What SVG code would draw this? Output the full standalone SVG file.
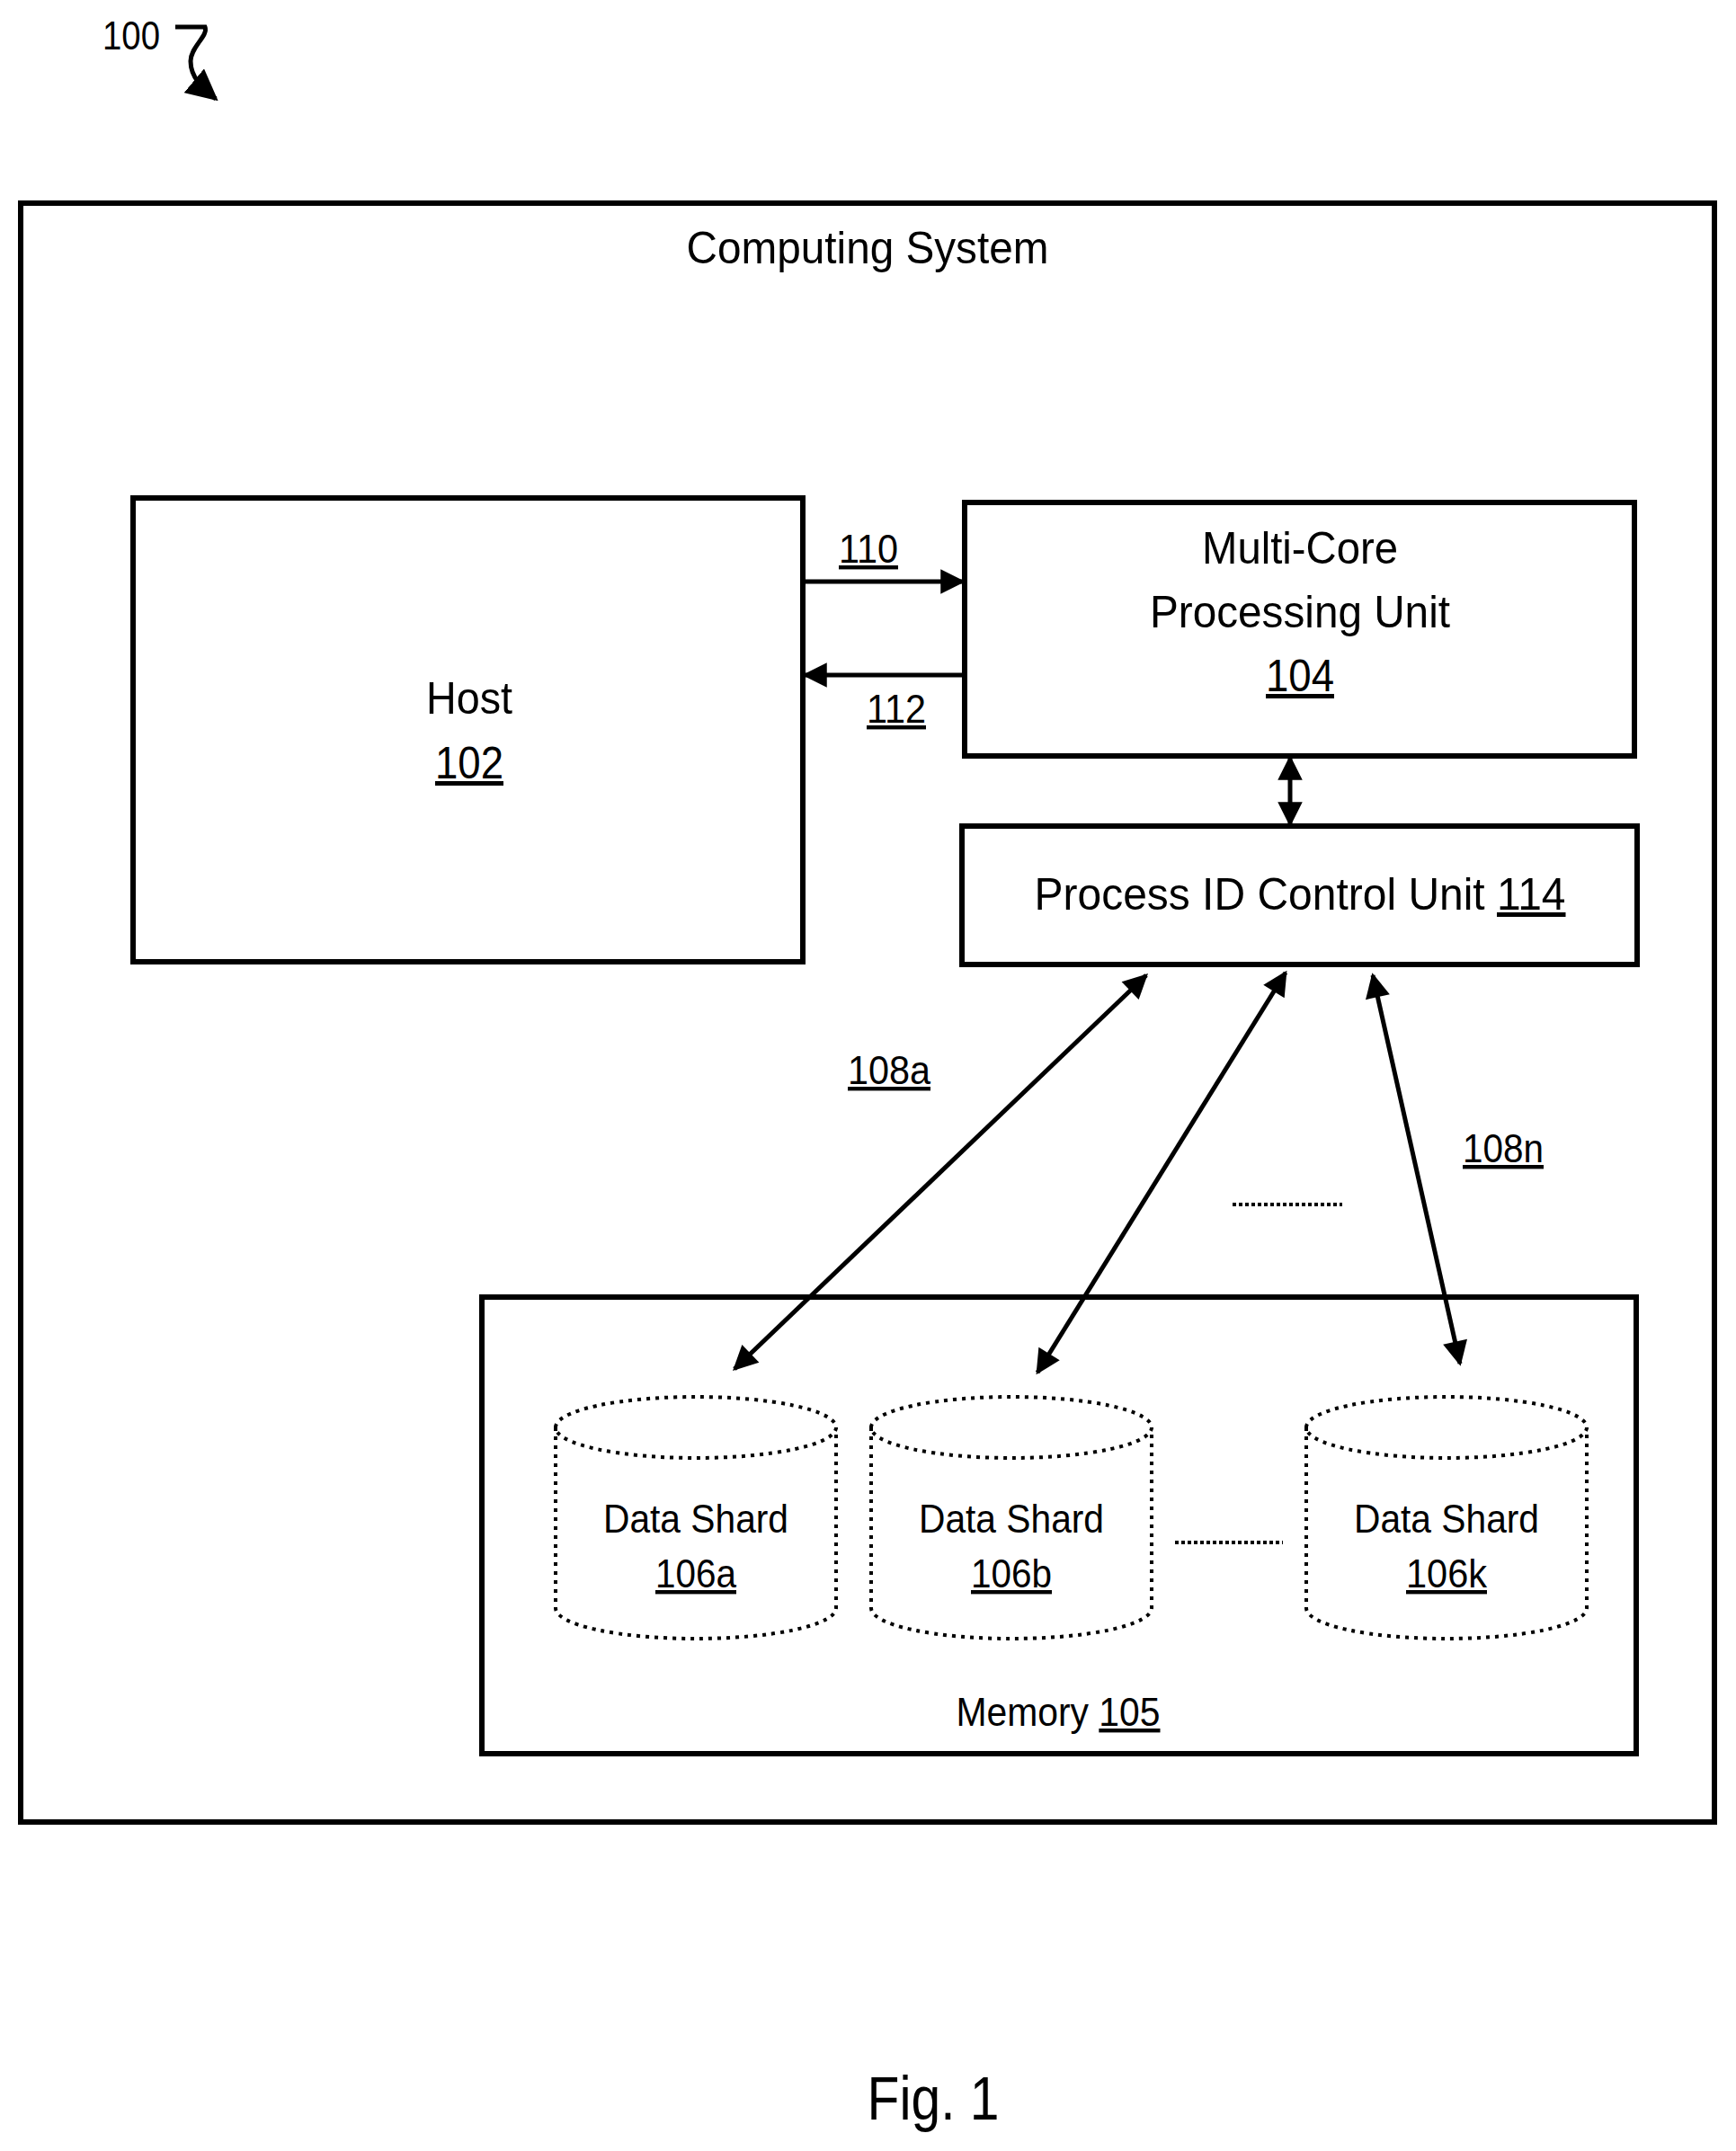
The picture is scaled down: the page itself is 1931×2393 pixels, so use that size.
<svg xmlns="http://www.w3.org/2000/svg" width="1931" height="2393" viewBox="0 0 1931 2393">
<style>
.box{fill:none;stroke:#000;stroke-width:6}
.t{font-family:"Liberation Sans",Arial,sans-serif;font-size:50px;fill:#000;text-anchor:middle}
.s{font-size:44px}
.u{text-decoration:underline}
.ln{stroke:#000;stroke-width:5;fill:none}
.cyl{fill:none;stroke:#000;stroke-width:4;stroke-dasharray:4 6}
.dot{stroke:#000;stroke-width:4;stroke-dasharray:4 3}
</style>
<defs>
<marker id="ah" viewBox="0 0 10 10" refX="9" refY="5" markerWidth="7" markerHeight="5.5" orient="auto-start-reverse" markerUnits="strokeWidth">
<path d="M0,0 L10,5 L0,10 z" fill="#000"/>
</marker>
<marker id="ah2" viewBox="0 0 10 10" refX="9" refY="5" markerWidth="7" markerHeight="7" orient="auto-start-reverse" markerUnits="strokeWidth">
<path d="M0,0 L10,5 L0,10 z" fill="#000"/>
</marker>
</defs>
<rect width="1931" height="2393" fill="#fff"/>
<g id="ref100">
<text class="t s" x="146" y="55" textLength="64" lengthAdjust="spacingAndGlyphs">100</text>
<path d="M195,30 H228 C232,40 212,52 212,68 C212,88 228,100 240,110" class="ln" stroke-width="3" marker-end="url(#ah2)"/>
</g>
<g id="computing-system">
<rect class="box" x="23" y="226" width="1884" height="1801"/>
<text class="t" x="965" y="293" textLength="403" lengthAdjust="spacingAndGlyphs">Computing System</text>
</g>
<g id="host">
<rect class="box" x="148" y="554" width="745" height="516"/>
<text class="t" x="522" y="794" textLength="96" lengthAdjust="spacingAndGlyphs">Host</text>
<text class="t u" x="522" y="866" textLength="76" lengthAdjust="spacingAndGlyphs">102</text>
</g>
<g id="mcpu">
<rect class="box" x="1073" y="559" width="745" height="282"/>
<text class="t" x="1446" y="627" textLength="218" lengthAdjust="spacingAndGlyphs">Multi-Core</text>
<text class="t" x="1446" y="698" textLength="334" lengthAdjust="spacingAndGlyphs">Processing Unit</text>
<text class="t u" x="1446" y="769" textLength="76" lengthAdjust="spacingAndGlyphs">104</text>
</g>
<g id="pidcu">
<rect class="box" x="1070" y="919" width="751" height="154"/>
<text class="t" x="1446" y="1012" textLength="591" lengthAdjust="spacingAndGlyphs">Process ID Control Unit <tspan class="u">114</tspan></text>
</g>
<g id="memory">
<rect class="box" x="536" y="1443" width="1284" height="508"/>
<text class="t s" x="1177" y="1920" textLength="227" lengthAdjust="spacingAndGlyphs">Memory <tspan class="u">105</tspan></text>
</g>
<g id="shard-a">
<path class="cyl" d="M618,1588 V1789 A156,34 0 0 0 930,1789 V1588"/>
<ellipse class="cyl" cx="774" cy="1588" rx="156" ry="34"/>
<text class="t s" x="774" y="1705" textLength="206" lengthAdjust="spacingAndGlyphs">Data Shard</text>
<text class="t s u" x="774" y="1766" textLength="90" lengthAdjust="spacingAndGlyphs">106a</text>
</g>
<g id="shard-b">
<path class="cyl" d="M969,1588 V1789 A156,34 0 0 0 1281,1789 V1588"/>
<ellipse class="cyl" cx="1125" cy="1588" rx="156" ry="34"/>
<text class="t s" x="1125" y="1705" textLength="206" lengthAdjust="spacingAndGlyphs">Data Shard</text>
<text class="t s u" x="1125" y="1766" textLength="90" lengthAdjust="spacingAndGlyphs">106b</text>
</g>
<g id="shard-k">
<path class="cyl" d="M1453,1588 V1789 A156,34 0 0 0 1765,1789 V1588"/>
<ellipse class="cyl" cx="1609" cy="1588" rx="156" ry="34"/>
<text class="t s" x="1609" y="1705" textLength="206" lengthAdjust="spacingAndGlyphs">Data Shard</text>
<text class="t s u" x="1609" y="1766" textLength="90" lengthAdjust="spacingAndGlyphs">106k</text>
</g>
<g id="connectors">
<line class="ln" stroke-width="6" x1="895" y1="647" x2="1071" y2="647" marker-end="url(#ah)"/>
<line class="ln" stroke-width="6" x1="1071" y1="751" x2="895" y2="751" marker-end="url(#ah)"/>
<line class="ln" stroke-width="4" x1="1435" y1="843" x2="1435" y2="917" marker-start="url(#ah)" marker-end="url(#ah)"/>
<line class="ln" x1="1275" y1="1085" x2="817" y2="1523" marker-start="url(#ah)" marker-end="url(#ah)"/>
<line class="ln" x1="1430" y1="1082" x2="1154" y2="1527" marker-start="url(#ah)" marker-end="url(#ah)"/>
<line class="ln" x1="1527" y1="1085" x2="1624" y2="1517" marker-start="url(#ah)" marker-end="url(#ah)"/>
<line class="dot" x1="1371" y1="1340" x2="1493" y2="1340"/>
<line class="dot" x1="1307" y1="1716" x2="1427" y2="1716"/>
<text class="t s u" x="966" y="626" textLength="66" lengthAdjust="spacingAndGlyphs">110</text>
<text class="t s u" x="997" y="804" textLength="66" lengthAdjust="spacingAndGlyphs">112</text>
<text class="t s u" x="989" y="1206" textLength="92" lengthAdjust="spacingAndGlyphs">108a</text>
<text class="t s u" x="1672" y="1293" textLength="90" lengthAdjust="spacingAndGlyphs">108n</text>
</g>
<text class="t" style="font-size:68px" x="1038" y="2358" textLength="147" lengthAdjust="spacingAndGlyphs">Fig. 1</text>
</svg>
